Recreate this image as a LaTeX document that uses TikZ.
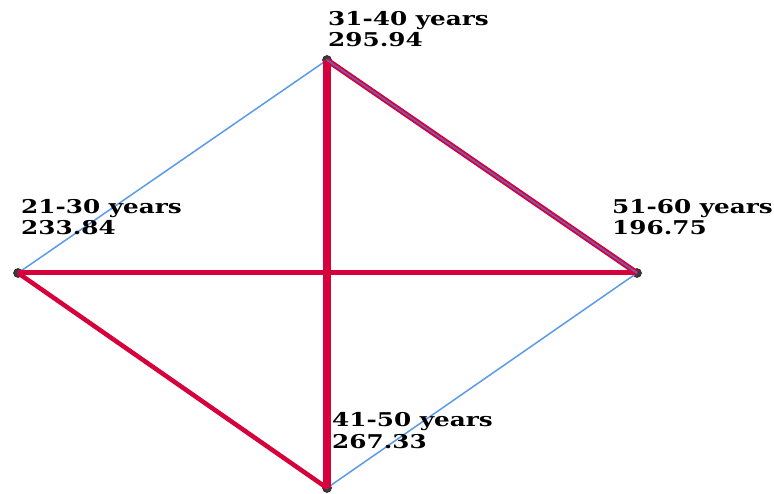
\documentclass[tikz,border=0pt]{standalone}
\usepackage{fontspec}
\newfontfamily\lblfont[FakeStretch=1.3]{DejaVu Serif}
\definecolor{edgered}{HTML}{D6003A}
\definecolor{edgeblue}{HTML}{5A9AE8}
\definecolor{mixline}{HTML}{7A5AA8}
\definecolor{dotgray}{HTML}{3A3A3A}
\begin{document}
\begin{tikzpicture}[x=1pt,y=-1pt,
  vtx/.style={circle,fill=dotgray,draw=dotgray!70!black,line width=0.6pt,inner sep=0pt,minimum size=9pt},
  lbl/.style={anchor=base west,align=left,inner sep=0pt,font=\lblfont\bfseries\fontsize{19}{21.5}\selectfont},
  thinblue/.style={edgeblue,line width=1.5pt},
  redline/.style={edgered,line width=#1}]
\useasboundingbox (0,0) rectangle (774,494);
\node[vtx] (t) at (327,60) {};
\node[vtx] (l) at (18,273) {};
\node[vtx] (r) at (637,273) {};
\node[vtx] (b) at (327,488) {};
\draw[thinblue] (t.center) -- (l.center);
\draw[thinblue] (b.center) -- (r.center);
\draw[redline=5pt] (l.center) -- (r.center);
\draw[redline=4.5pt] (l.center) -- (b.center);
\draw[redline=8pt] (t.center) -- (b.center);
\draw[redline=5.5pt] (t.center) -- (r.center);
\draw[mixline,line width=1.8pt] (t.center) -- (r.center);
\node[lbl] (tl) at (328,47) {31-40 years\\295.94};
\node[lbl] (ll) at (21,235) {21-30 years\\233.84};
\node[lbl] (rl) at (612,235) {51-60 years\\196.75};
\node[lbl] (bl) at (332,448) {41-50 years\\267.33};
\end{tikzpicture}
\end{document}
